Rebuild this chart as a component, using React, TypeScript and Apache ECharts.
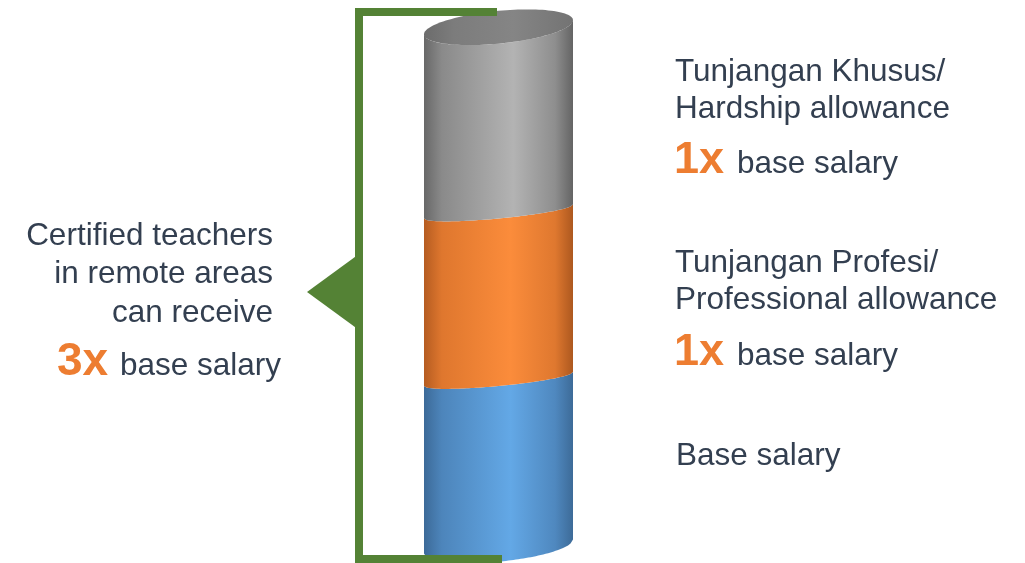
import React, { useEffect, useRef } from 'react';
import * as echarts from 'echarts';

// ---- data ----
const categories = ['Certified teacher in remote area'];
const segmentNames = ['Base salary', 'Professional allowance', 'Hardship allowance'];
const segmentValues = [1, 1, 1.1];
const segmentLabels = [
  ['Base salary'],
  ['Tunjangan Profesi/', 'Professional allowance'],
  ['Tunjangan Khusus/', 'Hardship allowance'],
];
const segmentMultipliers = ['', '1x', '1x'];
const multiplierSuffix = 'base salary';
const summaryLines = ['Certified teachers', 'in remote areas', 'can receive'];
const totalMultiplier = '3x';

// ---- styles ----
const FONT = '"Liberation Sans", Arial, sans-serif';
const TEXT_COLOR = '#333f50';
const ACCENT = '#ed7d31';
const GREEN = '#548235';
const SHEAR = -0.094;
// ellipse half-height grows away from the eye level (perspective)
const eyeY = 295;
const ryAt = (y: number) => 6 + 0.000145 * (y - eyeY) * (y - eyeY);
const GRADIENTS = [
  [[0, '#3c6a98'], [0.12, '#4d85bb'], [0.58, '#63a8e6'], [0.88, '#4f88bf'], [1, '#3d6b98']],
  [[0, '#b55c21'], [0.12, '#df772e'], [0.58, '#fb8c3b'], [0.88, '#df782f'], [1, '#ad581f']],
  [[0, '#686868'], [0.12, '#8a8a8a'], [0.6, '#b3b3b3'], [0.88, '#8e8e8e'], [1, '#646464']],
];
const CAP_GRADIENT = [[0, '#6c6c6c'], [0.2, '#7c7c7c'], [0.6, '#858585'], [1, '#737373']];

function grad(stops: any[]) {
  return new echarts.graphic.LinearGradient(0, 0, 1, 0, stops.map(([offset, color]) => ({ offset, color })));
}

export default function App() {
  const ref = useRef<HTMLDivElement>(null);
  useEffect(() => {
    if (!ref.current) return;
    const chart = echarts.init(ref.current, null, { renderer: 'svg' });

    let acc = 0;
    const data = segmentValues.map((v, i) => {
      const item = { name: segmentNames[i], value: [0, acc, acc + v, i] };
      acc += v;
      return item;
    });
    const lastIndex = segmentValues.length - 1;

    const renderItem = (params: any, api: any) => {
      const cat = api.value(0);
      const b = api.coord([cat, api.value(1)]);
      const t = api.coord([cat, api.value(2)]);
      const w = api.size([1, 0])[0];
      const cx = b[0];
      const rx = w / 2;
      const N = 60;
      const front = (yc: number) => {
        const ry = ryAt(yc);
        const pts: number[][] = [];
        for (let i = 0; i <= N; i++) {
          const u = -1 + (2 * i) / N;
          pts.push([cx + rx * u, yc + SHEAR * rx * u + ry * Math.sqrt(Math.max(0, 1 - u * u))]);
        }
        return pts;
      };
      const body = front(b[1]).concat(front(t[1]).reverse());
      const idx = api.value(3);
      const children: any[] = [
        { type: 'polygon', shape: { points: body }, style: { fill: grad(GRADIENTS[idx]) } },
      ];
      if (params.dataIndex === lastIndex) {
        const ry = ryAt(t[1]);
        const cap: number[][] = [];
        for (let i = 0; i < 120; i++) {
          const a = (i / 120) * Math.PI * 2;
          const c = Math.cos(a);
          cap.push([cx + rx * c, t[1] + SHEAR * rx * c + ry * Math.sin(a)]);
        }
        children.push({ type: 'polygon', shape: { points: cap }, style: { fill: grad(CAP_GRADIENT) } });
      }
      return { type: 'group', children };
    };

    const textEl = (text: string, x: number, baseline: number, size: number, opts: any = {}) => ({
      type: 'text',
      x,
      y: baseline - size * 0.34,
      z: 100,
      style: {
        text,
        fill: opts.fill || TEXT_COLOR,
        font: `${opts.bold ? 'bold ' : ''}${size}px ${FONT}`,
        textAlign: opts.align || 'left',
        textVerticalAlign: 'middle',
        verticalAlign: 'middle',
      },
    });

    const H = 31.5;
    const B = 45;
    const graphics: any[] = [
      {
        type: 'polyline',
        z: 100,
        shape: { points: [[497, 12], [359, 12], [359, 559], [502, 559]] },
        style: { stroke: GREEN, lineWidth: 8, fill: 'none', lineJoin: 'miter' },
      },
      {
        type: 'polygon',
        z: 100,
        shape: { points: [[307, 292], [359, 254], [359, 330]] },
        style: { fill: GREEN },
      },
      // left summary
      textEl(summaryLines[0], 273, 245, H, { align: 'right' }),
      textEl(summaryLines[1], 273, 283, H, { align: 'right' }),
      textEl(summaryLines[2], 273, 322, H, { align: 'right' }),
      textEl(totalMultiplier, 57, 375, 46, { bold: true, fill: ACCENT }),
      textEl(multiplierSuffix, 281, 375, H, { align: 'right' }),
      // right: hardship
      textEl(segmentLabels[2][0], 675, 81, H),
      textEl(segmentLabels[2][1], 675, 118, H),
      textEl(segmentMultipliers[2], 674, 173, B, { bold: true, fill: ACCENT }),
      textEl(multiplierSuffix, 737, 173, H),
      // right: professional
      textEl(segmentLabels[1][0], 675, 272, H),
      textEl(segmentLabels[1][1], 675, 309, H),
      textEl(segmentMultipliers[1], 674, 365, B, { bold: true, fill: ACCENT }),
      textEl(multiplierSuffix, 737, 365, H),
      // right: base
      textEl(segmentLabels[0][0], 676, 465, H),
    ];

    chart.setOption({
      animation: false,
      grid: { left: 424, right: 452, top: 10.5, bottom: 16.5 },
      xAxis: { type: 'category', data: categories, show: false, boundaryGap: true },
      yAxis: { type: 'value', min: 0, max: 3.2, show: false },
      series: [
        {
          type: 'custom',
          renderItem,
          clip: false,
          encode: { x: 0, y: [1, 2] },
          data,
          z: 2,
        },
      ],
      graphic: graphics,
    });
    return () => chart.dispose();
  }, []);
  return <div ref={ref} style={{ position: 'fixed', left: 0, top: 0, width: 1025, height: 563 }} />;
}
